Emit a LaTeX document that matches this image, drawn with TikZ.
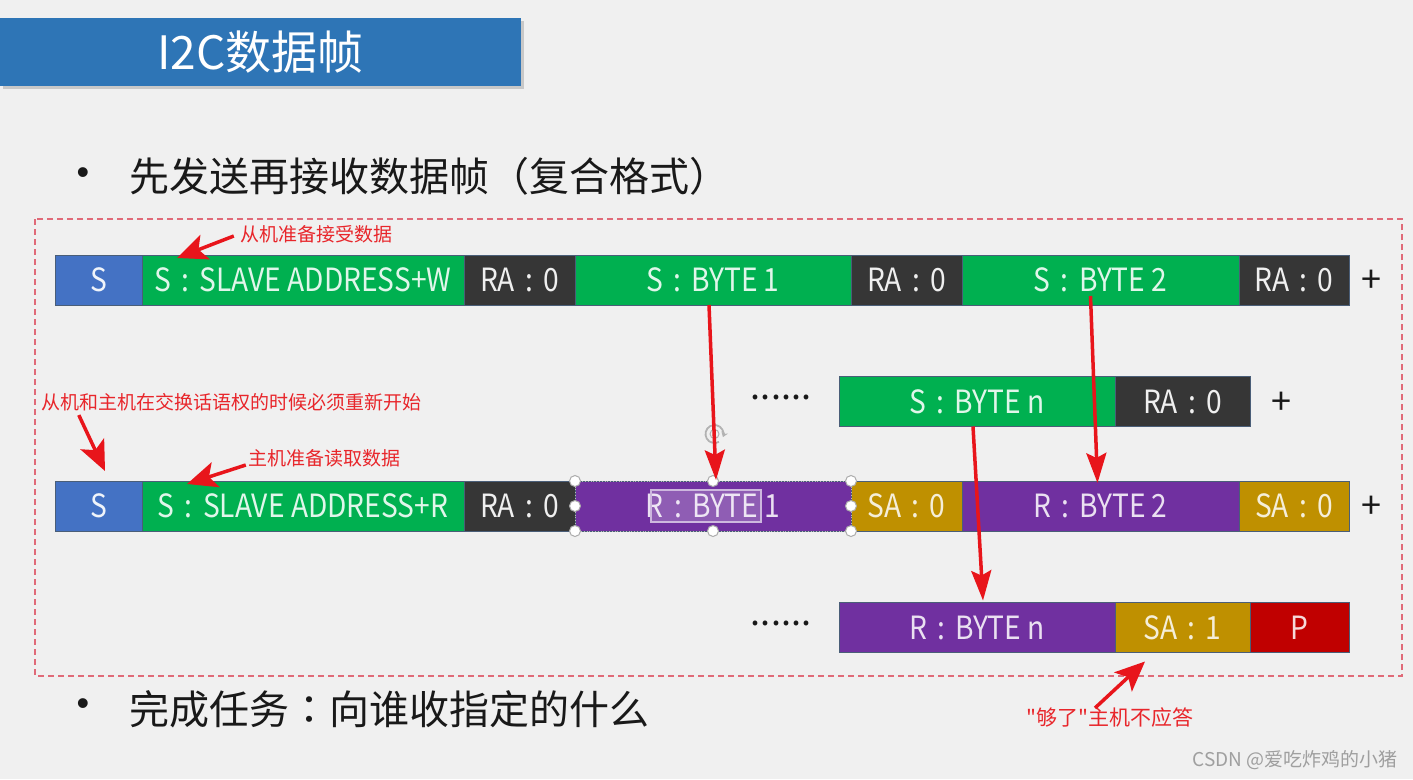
\documentclass[tikz,border=0pt]{standalone}
\usepackage{fontspec}
\setmainfont{Noto Sans CJK SC}
\newfontfamily\cellfont{Noto Sans CJK SC}[FakeStretch=0.88]
\newfontfamily\quotefont{Noto Sans CJK SC}[Ligatures=TeXOff]
\newfontfamily\tcfont{Noto Sans CJK TC}
\newfontfamily\bulfont{Liberation Sans}
\usetikzlibrary{arrows.meta,calc,shadows}
\newcommand\mycolon{\hspace{0.32em}:\hspace{0.32em}}
\definecolor{cbg}{HTML}{F0F0F0}
\definecolor{cTitle}{HTML}{2E75B6}
\definecolor{cS}{HTML}{4472C4}
\definecolor{cG}{HTML}{00B050}
\definecolor{cD}{HTML}{363636}
\definecolor{cP}{HTML}{7030A0}
\definecolor{cY}{HTML}{BF9000}
\definecolor{cRd}{HTML}{C00000}
\definecolor{cBorder}{HTML}{4A5E78}
\definecolor{cArrow}{HTML}{E8151B}
\definecolor{cAnn}{HTML}{E8262B}
\definecolor{cDash}{HTML}{E06A78}
\tikzset{
  cell/.style={draw=cBorder, line width=0.8pt, minimum height=50pt, inner sep=0pt, outer sep=0pt,
    anchor=west, font=\cellfont\fontsize{32}{36}\selectfont},
  cellS/.style={fill=cS, text=white!92!cS},
  cellG/.style={fill=cG, text=white!88!cG},
  cellD/.style={fill=cD, text=white!92!cD},
  cellP/.style={fill=cP, text=white!85!cP},
  cellY/.style={fill=cY, text=white!85!cY},
  cellR/.style={fill=cRd, text=white!85!cRd},
  plus/.style={inner sep=0pt, font=\fontsize{36}{38}\selectfont, text=black!90},
  dotsnode/.style={inner sep=0pt, font=\fontsize{36}{38}\selectfont, text=black!90},
  ann/.style={inner sep=0pt, text=cAnn, font=\fontsize{19}{22}\selectfont},
  annarr/.style={draw=cArrow, line width=3.5pt, -{Stealth[length=30pt, width=26pt, inset=7pt]}},
  varr/.style={draw=cArrow, line width=3.5pt, -{Stealth[length=30pt, width=20pt, inset=5pt]}},
  handle/.style={draw=gray!65, fill=white, line width=1pt},
  bul/.style={inner sep=0pt, font=\bulfont\fontsize{36}{38}\selectfont, text=black!90},
  btext/.style={inner sep=0pt, anchor=west, font=\fontsize{40}{44}\selectfont, text=black!90},
}
\begin{document}
\begin{tikzpicture}[x=1pt,y=-1pt]
\useasboundingbox (0,0) rectangle (1413,779);
\fill[cbg] (0,0) rectangle (1413,779);

% title
\node[fill=cTitle, minimum width=521pt, minimum height=68pt, inner sep=0pt,
  text=white, font=\fontsize{46}{50}\selectfont,
  drop shadow={opacity=0.35, shadow xshift=3pt, shadow yshift=-3pt}] (ttl) at (260.5,52) {I2C数据帧};

% bullets
\node[bul] (bu1) at (83,176) {•};
\node[btext] (t1) at (129,176) {先发送再接收数据帧（复合格式）};
\node[bul] (bu2) at (83,707) {•};
\node[btext] (t2) at (129,709) {完成任务{\tcfont ：}向谁收指定的什么};

% dashed frame
\draw[cDash, line width=1.2pt, dash pattern=on 6pt off 4pt] (35,219) rectangle (1402,676);

% row 1
\node[cell,cellS,minimum width=87pt] (s1) at (55,280) {S};
\node[cell,cellG,minimum width=322pt] (saw) at (s1.east) {S\mycolon SLAVE ADDRESS+W};
\node[cell,cellD,minimum width=111pt] (ra1) at (saw.east) {RA\mycolon 0};
\node[cell,cellG,minimum width=276pt] (b1) at (ra1.east) {S\mycolon BYTE 1};
\node[cell,cellD,minimum width=111pt] (ra2) at (b1.east) {RA\mycolon 0};
\node[cell,cellG,minimum width=277pt] (b2) at (ra2.east) {S\mycolon BYTE 2};
\node[cell,cellD,minimum width=110pt] (ra3) at (b2.east) {RA\mycolon 0};
\node[plus] (p1) at (1371,281) {+};

% row 2
\node[dotsnode] (d1) at (781,397) {......};
\node[cell,cellG,minimum width=276pt] (bn) at (839,401.5) {S\mycolon BYTE n};
\node[cell,cellD,minimum width=135pt] (ra4) at (bn.east) {RA\mycolon 0};
\node[plus] (p2) at (1281,403) {+};

% row 3
\node[cell,cellS,minimum width=87pt] (s3) at (55,506) {S};
\node[cell,cellG,minimum width=322pt] (sar) at (s3.east) {S\mycolon SLAVE ADDRESS+R};
\node[cell,cellD,minimum width=111pt] (ra5) at (sar.east) {RA\mycolon 0};
\node[cell,cellP,minimum width=276pt] (rb1) at (ra5.east) {R\mycolon BYTE 1};
\node[cell,cellY,minimum width=111pt] (sa1) at (rb1.east) {SA\mycolon 0};
\node[cell,cellP,minimum width=277pt] (rb2) at (sa1.east) {R\mycolon BYTE 2};
\node[cell,cellY,minimum width=110pt] (sa2) at (rb2.east) {SA\mycolon 0};
\node[plus] (p3) at (1371,507) {+};

% row 4
\node[dotsnode] (d2) at (781,623) {......};
\node[cell,cellP,minimum width=276pt] (rbn) at (839,627.5) {R\mycolon BYTE n};
\node[cell,cellY,minimum width=135pt] (sa3) at (rbn.east) {SA\mycolon 1};
\node[cell,cellR,minimum width=99pt] (pp) at (sa3.east) {P};

% selection decoration on R:BYTE 1
\fill[white, fill opacity=0.22] ($(rb1.west)+(76,-16)$) rectangle ($(rb1.west)+(186,16)$);
\draw[white!65!cP, line width=1.5pt] ($(rb1.west)+(76,-16)$) rectangle ($(rb1.west)+(186,16)$);
\draw[gray!55, dotted, line width=0.8pt] (rb1.north west) rectangle (rb1.south east);
\foreach \a in {north west,north,north east,west,east,south west,south,south east}
  \draw[handle] (rb1.\a) circle (5.5);
\draw[gray!60, line width=1.8pt, -{Stealth[length=5pt,width=7pt]}]
  ($(rb1.north)+(1.5,-47)$) ++(60:9) arc[start angle=60, end angle=380, radius=9];
\draw[gray!60, line width=1pt] ($(rb1.north)+(1.5,-47)$) circle (4.5);

% vertical arrows
\draw[varr] ($(b1.south)+(-4,0)$) -- ($(rb1.north)+(3,-1)$);
\draw[varr] ($(b2.south)+(-10,-9)$) -- ($(rb2.north)+(-3,2)$);
\draw[varr] ($(bn.south)+(-4,0)$) -- ($(rbn.north)+(6,-2)$);

% annotations
\node[ann] (ann1) at (316,234) {从机准备接受数据};
\node[ann] (ann2) at (231,402) {从机和主机在交换话语权的时候必须重新开始};
\node[ann] (ann3) at (324,458) {主机准备读取数据};
\node[ann, font=\quotefont\fontsize{21}{24}\selectfont] (ann4) at (1110,717) {"够了"主机不应答};
\draw[annarr] ($(ann1.west)+(-6,2)$) -- ($(saw.north west)+(35,3)$);
\draw[annarr] ($(ann2.south west)+(38,4)$) -- ($(s3.north west)+(50,-10)$);
\draw[annarr] ($(ann3.west)+(-2,7)$) -- ($(sar.north west)+(45,3)$);
\draw[annarr] ($(ann4.north)+(-15,1)$) -- ($(sa3.south west)+(30,9)$);

% watermark
\node[inner sep=0pt, anchor=east, text=gray!75, font=\fontsize{19}{22}\selectfont] (wm) at (1398,760) {CSDN @爱吃炸鸡的小猪};
\end{tikzpicture}
\end{document}
